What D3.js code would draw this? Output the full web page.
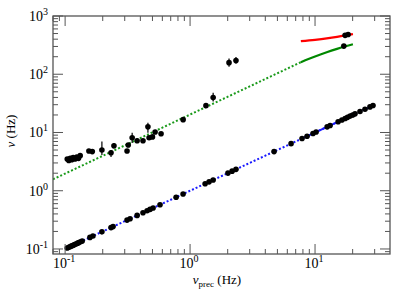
<!DOCTYPE html>
<html><head><meta charset="utf-8">
<script src="https://cdn.jsdelivr.net/npm/d3@7/dist/d3.min.js"></script>
<style>body{margin:0;background:#fff}svg{display:block}</style>
</head><body><svg id="c" width="399" height="299" font-family="'Liberation Serif', 'Times New Roman', Times, serif"></svg>
<script>
// ---- data ----
const xTickValues = [0.1, 1, 10];
const xTickExps = ["-1", "0", "1"];
const yTickValues = [0.1, 1, 10, 100, 1000];
const yTickExps = ["-1", "0", "1", "2", "3"];

const lowerX = [0.104,0.107,0.11,0.113,0.116,0.119,0.122,0.126,0.129,0.133,0.137,0.158,0.167,0.197,0.233,0.242,0.313,0.331,0.377,0.42,0.453,0.478,0.506,0.575,0.773,0.879,1.32,1.42,1.53,2.01,2.17,2.33,4.7,6.43,7.87,8.63,9.63,10.2,12.5,13.2,15.3,16.4,17.4,18.2,19.1,20.0,20.9,22.9,25.1,27.5,29.1];
const lowerY = [0.104,0.107,0.11,0.113,0.116,0.119,0.122,0.126,0.129,0.133,0.137,0.158,0.167,0.197,0.233,0.242,0.313,0.331,0.377,0.42,0.453,0.478,0.506,0.575,0.773,0.879,1.32,1.42,1.53,2.01,2.17,2.33,4.7,6.43,7.87,8.63,9.63,10.2,12.5,13.2,15.3,16.4,17.4,18.2,19.1,20.0,20.9,22.9,25.1,27.5,29.1];

const upperX = [0.104,0.107,0.11,0.113,0.116,0.12,0.124,0.128,0.132,0.155,0.165,0.197,0.233,0.246,0.313,0.32,0.344,0.377,0.42,0.46,0.47,0.5,0.525,0.586,0.88,1.34,1.53,2.05,2.33];
const upperY = [3.5,3.3,3.6,3.4,3.7,3.5,3.8,3.6,4.0,4.8,4.7,5.0,4.5,5.9,4.8,6.1,8.1,7.2,7.2,12.5,8.1,8.4,10.2,9.5,16.6,28.9,39.7,158,172];
const upperYLo = [3.3,3.1,3.4,3.2,3.5,3.3,3.6,3.4,3.8,4.5,4.4,4.1,3.8,5.4,4.5,5.6,6.6,6.6,6.6,9.9,7.5,7.8,9.5,8.9,15.6,27,34,134,151];
const upperYHi = [3.7,3.5,3.8,3.6,3.9,3.7,4.0,3.8,4.2,5.1,5.0,7.0,5.0,6.6,5.1,6.6,9.9,7.8,7.8,14.7,8.7,9.0,10.9,10.1,17.6,31,48,186,197];

const curveX = [7.7, 10, 12.4, 15, 17.5, 20.1];
const redY = [370, 390, 412, 438, 464, 491];
const greenY = [161, 201, 238, 273, 302, 328];
const redPtsX = [17.4, 18.4];
const redPtsY = [465, 480];
const greenPtsX = [17.0];
const greenPtsY = [304];

const greenDotX = [0.08, 7.7];
const greenDotY = [1.57, 161];
const blueDotX = [0.1, 30];
const blueDotY = [0.1, 30];
const blueSolidX = [7.7, 20.1];
const blueSolidY = [7.7, 20.1];

// ---- layout ----
const L = 53, R = 390, T = 16, B = 254;
const x = d3.scaleLog().domain([0.08, 39.8]).range([L, R]);
const y = d3.scaleLog().domain([0.082, 1000]).range([B, T]);
const svg = d3.select("#c");

svg.append("defs").append("clipPath").attr("id","pc").append("rect")
  .attr("x", L).attr("y", T).attr("width", R - L).attr("height", B - T);

const line = d3.line().x(d => x(d[0])).y(d => y(d[1]));
const curve = d3.line().x(d => x(d[0])).y(d => y(d[1])).curve(d3.curveMonotoneX);
const zip = (a, b) => a.map((v, i) => [v, b[i]]);

const g = svg.append("g").attr("clip-path", "url(#pc)");
g.append("path").attr("d", line(zip(greenDotX, greenDotY))).attr("fill","none")
  .attr("stroke","#1a9a1a").attr("stroke-width",2).attr("stroke-dasharray","2,2");
g.append("path").attr("d", line(zip(blueDotX, blueDotY))).attr("fill","none")
  .attr("stroke","#1a1aff").attr("stroke-width",2).attr("stroke-dasharray","2,2");
g.append("path").attr("d", line(zip(blueSolidX, blueSolidY))).attr("fill","none")
  .attr("stroke","#1a1aff").attr("stroke-width",2);
g.append("path").attr("d", curve(zip(curveX, redY))).attr("fill","none")
  .attr("stroke","#ff0000").attr("stroke-width",2.2);
g.append("path").attr("d", curve(zip(curveX, greenY))).attr("fill","none")
  .attr("stroke","#008800").attr("stroke-width",2.2);

// error bars
g.selectAll("line.err").data(upperX).enter().append("line")
  .attr("x1", d => x(d)).attr("x2", d => x(d))
  .attr("y1", (d,i) => y(upperYLo[i])).attr("y2", (d,i) => y(upperYHi[i]))
  .attr("stroke","#000").attr("stroke-width",1.2);

const dot = (xs, ys) => g.append("g").selectAll("circle").data(xs).enter().append("circle")
  .attr("cx", d => x(d)).attr("cy", (d,i) => y(ys[i])).attr("r", 2.8).attr("fill","#000");
dot(lowerX, lowerY);
dot(upperX, upperY);
dot(redPtsX, redPtsY);
dot(greenPtsX, greenPtsY);

// frame
svg.append("rect").attr("x", L).attr("y", T).attr("width", R - L).attr("height", B - T)
  .attr("fill","none").attr("stroke","#555").attr("stroke-width",1.3);

// ticks
const ax = svg.append("g").attr("stroke","#555").attr("stroke-width",1);
function minorTicks(dom) {
  const out = [];
  for (let e = -2; e <= 3; e++) for (let m = 1; m <= 9; m++) {
    const v = m * Math.pow(10, e);
    if (v >= dom[0] && v <= dom[1]) out.push({v, major: m === 1});
  }
  return out;
}
minorTicks(x.domain()).forEach(t => {
  const len = t.major ? 10 : 5, px = x(t.v);
  ax.append("line").attr("x1",px).attr("x2",px).attr("y1",B).attr("y2",B-len);
  ax.append("line").attr("x1",px).attr("x2",px).attr("y1",T).attr("y2",T+len);
});
minorTicks(y.domain()).forEach(t => {
  const len = t.major ? 10 : 5, py = y(t.v);
  ax.append("line").attr("x1",L).attr("x2",L+len).attr("y1",py).attr("y2",py);
  ax.append("line").attr("x1",R).attr("x2",R-len).attr("y1",py).attr("y2",py);
});

// tick labels
xTickValues.forEach((v, i) => {
  const t = svg.append("text").attr("x", x(v) - 1).attr("y", 268).attr("text-anchor","middle").attr("font-size",14);
  t.append("tspan").text("10");
  t.append("tspan").attr("dy",-6).attr("font-size",10).text(xTickExps[i]);
});
yTickValues.forEach((v, i) => {
  const t = svg.append("text").attr("x", 48).attr("y", y(v) + 5).attr("text-anchor","end").attr("font-size",14);
  t.append("tspan").text("10");
  t.append("tspan").attr("dy",-6).attr("font-size",10).text(yTickExps[i]);
});

// axis titles
const xt = svg.append("text").attr("x", 217).attr("y", 284).attr("text-anchor","middle").attr("font-size",13);
xt.append("tspan").attr("font-style","italic").text("ν");
xt.append("tspan").attr("dy",3).attr("font-size",9).text("prec");
xt.append("tspan").attr("dy",-3).text(" (Hz)");

const yt = svg.append("text").attr("transform","translate(15,131) rotate(-90)").attr("text-anchor","middle").attr("font-size",13);
yt.append("tspan").attr("font-style","italic").text("ν");
yt.append("tspan").text(" (Hz)");
</script></body></html>
